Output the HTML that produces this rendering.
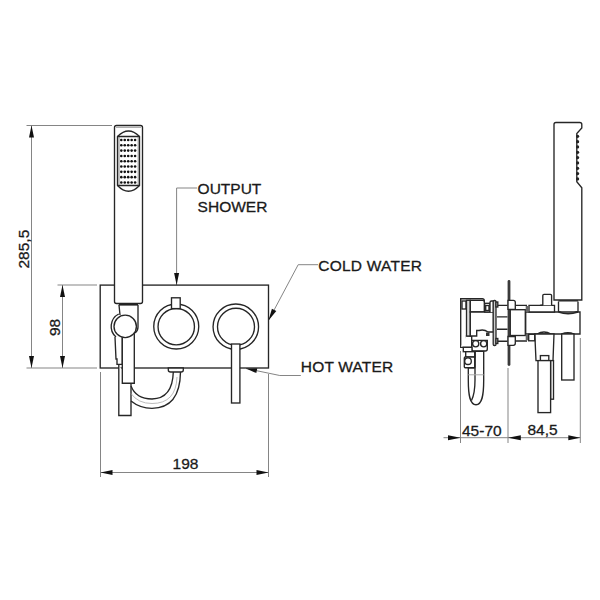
<!DOCTYPE html>
<html><head><meta charset="utf-8">
<style>
html,body{margin:0;padding:0;background:#fff;width:600px;height:600px;overflow:hidden}
svg{display:block}
text{font-family:"Liberation Sans",sans-serif;font-size:15.5px;fill:#1a1a1a;stroke:#1a1a1a;stroke-width:0.3}
.o{fill:none;stroke:#262626;stroke-width:1.35}
.w{fill:#fff;stroke:#262626;stroke-width:1.35}
.d{fill:none;stroke:#858585;stroke-width:1}
.a{fill:#111;stroke:none}
</style></head>
<body>
<svg width="600" height="600" viewBox="0 0 600 600">
<!-- ============ LEFT VIEW: dimensions ============ -->
<g class="d">
  <path d="M26.5 125.5H112"/>
  <path d="M31.5 125.5V368"/>
  <path d="M26.5 368H97"/>
  <path d="M57.5 285H97"/>
  <path d="M62.5 285V368"/>
  <path d="M100.5 372V477"/>
  <path d="M268.5 374V477"/>
  <path d="M100.5 472.5H268.5"/>
  <!-- leaders -->
  <path d="M197 188H176.6V285"/>
  <path d="M318 264.7H298.2L268.5 320.5"/>
  <path d="M300.8 375.5H279.8L246 368.5"/>
</g>
<g class="a">
  <path d="M31.5 125.5L29 137.5H34Z"/>
  <path d="M31.5 368L29 356H34Z"/>
  <path d="M62.5 285L60 297H65Z"/>
  <path d="M62.5 368L60 356H65Z"/>
  <path d="M100.5 472.5L112.5 470H112.5V475Z"/>
  <path d="M268.5 472.5L256.5 470V475Z"/>
  <path d="M176.6 285L174.1 273H179.1Z"/>
  <path d="M268.5 320.5L271.9 308.8L276.3 311.1Z"/>
  <path d="M246 368.5L257.3 368.2L256.3 373.1Z"/>
</g>
<text transform="translate(28.5 268.5) rotate(-90)">285,5</text>
<text transform="translate(59.8 336) rotate(-90)">98</text>
<text x="172.6" y="469.3">198</text>
<text x="197.6" y="194">OUTPUT</text>
<text x="197.6" y="212">SHOWER</text>
<text x="318.2" y="271.4" letter-spacing="0.25">COLD WATER</text>
<text x="300.8" y="372.4" letter-spacing="0.17">HOT WATER</text>

<!-- ============ LEFT VIEW: object ============ -->
<rect class="o" x="100.2" y="285.1" width="168.3" height="82.9"/>
<!-- handshower -->
<rect class="w" x="114.5" y="125.5" width="28" height="178" rx="2"/>
<path d="M116 127.3H141" stroke="#9a9a9a" stroke-width="1"/>
<path class="o" d="M117.5 185.5V136.5Q128.5 125.5 139.5 136.5V185.5Q128.5 197 117.5 185.5Z" />
<path class="o" d="M117.5 136.5H139.5M117.5 185.5H139.5"/>
<path d="M119 137V185M138.2 137V185" fill="none" stroke="#777" stroke-width="0.8"/>
<g class="a"><circle cx="121.30" cy="140.00" r="1.3"/><circle cx="124.75" cy="140.00" r="1.3"/><circle cx="128.20" cy="140.00" r="1.3"/><circle cx="131.65" cy="140.00" r="1.3"/><circle cx="135.10" cy="140.00" r="1.3"/><circle cx="121.30" cy="145.31" r="1.3"/><circle cx="124.75" cy="145.31" r="1.3"/><circle cx="128.20" cy="145.31" r="1.3"/><circle cx="131.65" cy="145.31" r="1.3"/><circle cx="135.10" cy="145.31" r="1.3"/><circle cx="121.30" cy="150.62" r="1.3"/><circle cx="124.75" cy="150.62" r="1.3"/><circle cx="128.20" cy="150.62" r="1.3"/><circle cx="131.65" cy="150.62" r="1.3"/><circle cx="135.10" cy="150.62" r="1.3"/><circle cx="121.30" cy="155.93" r="1.3"/><circle cx="124.75" cy="155.93" r="1.3"/><circle cx="128.20" cy="155.93" r="1.3"/><circle cx="131.65" cy="155.93" r="1.3"/><circle cx="135.10" cy="155.93" r="1.3"/><circle cx="121.30" cy="161.24" r="1.3"/><circle cx="124.75" cy="161.24" r="1.3"/><circle cx="128.20" cy="161.24" r="1.3"/><circle cx="131.65" cy="161.24" r="1.3"/><circle cx="135.10" cy="161.24" r="1.3"/><circle cx="121.30" cy="166.55" r="1.3"/><circle cx="124.75" cy="166.55" r="1.3"/><circle cx="128.20" cy="166.55" r="1.3"/><circle cx="131.65" cy="166.55" r="1.3"/><circle cx="135.10" cy="166.55" r="1.3"/><circle cx="121.30" cy="171.86" r="1.3"/><circle cx="124.75" cy="171.86" r="1.3"/><circle cx="128.20" cy="171.86" r="1.3"/><circle cx="131.65" cy="171.86" r="1.3"/><circle cx="135.10" cy="171.86" r="1.3"/><circle cx="121.30" cy="177.17" r="1.3"/><circle cx="124.75" cy="177.17" r="1.3"/><circle cx="128.20" cy="177.17" r="1.3"/><circle cx="131.65" cy="177.17" r="1.3"/><circle cx="135.10" cy="177.17" r="1.3"/><circle cx="121.30" cy="182.48" r="1.3"/><circle cx="124.75" cy="182.48" r="1.3"/><circle cx="128.20" cy="182.48" r="1.3"/><circle cx="131.65" cy="182.48" r="1.3"/><circle cx="135.10" cy="182.48" r="1.3"/></g>
<!-- holder -->
<path d="M118.8 304.6H138" stroke="#222" stroke-width="2"/>
<path class="o" d="M119 305L120 315M138 305V327Q138 331 135 333"/>
<path class="o" d="M118.7 314A14 14 0 0 0 116 337"/>
<path class="w" d="M115 337L116 359H117V364.3H122.3V337"/>
<path class="w" d="M118.8 365V415.5H131V383"/>
<path class="w" d="M122.3 337.5V383.2H134.3V333"/>
<circle class="w" cx="125.2" cy="326.4" r="11.2"/>
<!-- hose -->
<path class="o" d="M131 386Q136 399 152 399Q172.5 398.5 173.3 372"/>
<path class="o" d="M131 401Q140 408.3 152 408.3Q180 408 180.5 372"/>
<path d="M131 393.5Q138 403.5 152 403.5Q176 403.5 177 377" fill="none" stroke="#aaa" stroke-width="0.8"/>
<path class="w" d="M168.3 368H183.3V370Q183.3 372 181 372H170.6Q168.3 372 168.3 370Z"/>
<!-- knobs -->
<circle class="o" cx="176.25" cy="326.5" r="22.5"/>
<circle class="o" cx="176.25" cy="326.7" r="18.2"/>
<rect class="w" x="171.5" y="297.8" width="8.7" height="10.8"/>
<circle class="o" cx="235.8" cy="326.75" r="22.75"/>
<circle class="o" cx="236" cy="326.75" r="18.5"/>
<rect class="w" x="231.5" y="344" width="8.4" height="59"/>

<!-- ============ RIGHT VIEW: dimensions ============ -->
<g class="d">
  <path d="M460.5 351V443"/>
  <path d="M508 368V443"/>
  <path d="M580.3 338V443"/>
  <path d="M443.5 437.7H580.3"/>
  <path d="M468 374.8H484" stroke="#aaa"/>
</g>
<g class="a">
  <path d="M460.5 437.7L448 435.2V440.2Z"/>
  <path d="M508 437.7L520.8 435.2V440.2Z"/>
  <path d="M580.3 437.7L568.3 435.2V440.2Z"/>
</g>
<text x="462" y="435.8">45-70</text>
<text x="527.5" y="435.2">84,5</text>

<!-- ============ RIGHT VIEW: object ============ -->
<!-- handshower side -->
<path class="w" d="M554 300V124.5Q554 122.5 556 122.5H579.8Q581.8 122.5 581.8 124.5V128L576.8 133.5V181.7L581.8 187.7V300Z"/>
<g fill="#222"><circle cx="577.6" cy="136.30" r="1.6"/><circle cx="577.6" cy="141.63" r="1.6"/><circle cx="577.6" cy="146.96" r="1.6"/><circle cx="577.6" cy="152.29" r="1.6"/><circle cx="577.6" cy="157.62" r="1.6"/><circle cx="577.6" cy="162.95" r="1.6"/><circle cx="577.6" cy="168.28" r="1.6"/><circle cx="577.6" cy="173.61" r="1.6"/><circle cx="577.6" cy="178.94" r="1.6"/></g>
<path d="M558.5 301.2H578" stroke="#222" stroke-width="2"/>
<path class="w" d="M558.5 301.5V311.5Q568 315.5 578 311.5V301.5"/>
<!-- body -->
<path class="w" d="M525.7 312H580V334H525.7Z"/>
<path class="o" d="M558.5 312Q568 315.5 578 312"/>
<path class="w" d="M529 305.3H554.5V312H529Z"/>
<path class="o" d="M537 334Q544 330 551 334M561.7 334Q568 331.5 574 334"/>
<path class="o" d="M540 305.3Q547 304 551 305.3"/>
<path class="w" d="M542.8 305.3V295.5Q542.8 294.3 544 294.3H550.4Q551.6 294.3 551.6 295.5V305.3"/>
<!-- lever -->
<path class="w" d="M534.8 334H554L553 360.6H536Z"/>
<rect class="w" x="540.4" y="355.6" width="8.4" height="5"/>
<rect class="w" x="550.6" y="360.6" width="2.9" height="38.6"/>
<rect class="w" x="538" y="360.6" width="12.6" height="52"/>
<rect class="w" x="561.7" y="334" width="12.3" height="46"/>
<!-- between wall and body -->
<path class="o" d="M510.3 305.3H527M510.3 341H527"/>
<rect class="w" x="510.3" y="309.7" width="15" height="25.8"/>
<rect fill="#666" x="525.7" y="306" width="3" height="6"/>
<rect fill="#666" x="525.7" y="334.3" width="3" height="6"/>
<rect class="w" x="528.7" y="334.3" width="6" height="6.5"/>
<!-- wall plate -->
<path d="M509 281.5V364.5" stroke="#3a3a3a" stroke-width="2.8" stroke-linecap="round"/>
<path class="w" d="M508 309.3V300.3H513.3Q515.3 300.3 515.3 302.3V309.3Z"/>
<path class="w" d="M508 336.5V345.3H513.3Q515.3 345.3 515.3 343.3V336.5Z"/>
<!-- tie rods -->
<path class="o" d="M497 305.3H507.5M497 316.9H507.5M497 329.2H507.5M497 341.2H507.5"/>
<!-- left assembly -->
<path class="w" d="M460.7 347.3V298.7H482.3Q484.3 298.7 484.3 300.7V312H470.3V336H466.5V347.3Z"/>
<path class="w" d="M460.7 347.3H471.7V336H466.5"/>
<rect class="w" x="462" y="301" width="4" height="8"/>
<rect x="466.5" y="300.3" width="3.8" height="35.7" fill="#ddd" stroke="#2a2a2a" stroke-width="1.3"/>
<path class="w" d="M470.3 300.3H482.5Q484.3 300.3 484.3 302V312H470.3Z"/>
<path class="w" d="M470.3 312H493.5V332H488Q484 329 479 330.5H476.7V336H470.3Z"/>
<rect class="w" x="484.7" y="303.3" width="5.3" height="8.7"/>
<rect class="o" x="485.7" y="305.5" width="3.3" height="5" stroke-width="0.9"/>
<path class="w" d="M490 312V302.5Q490 301 491.5 301H493.5V312"/>
<rect x="493.2" y="300.5" width="2.8" height="45" rx="1.2" fill="#ccc" stroke="#2a2a2a" stroke-width="1.3"/>
<rect class="w" x="496" y="302" width="1.8" height="5" />
<rect class="w" x="496" y="338.5" width="1.8" height="5" />
<rect fill="#333" x="486" y="332.5" width="3.5" height="3.5"/>
<path class="w" d="M471.7 340.3H487.3V349Q487.3 351 485.3 351H473.7Q471.7 351 471.7 349Z"/>
<circle class="o" cx="475.7" cy="343.7" r="3.1"/>
<circle class="o" cx="483.7" cy="343.7" r="3.1"/>
<rect class="w" x="463.3" y="347.3" width="8.7" height="4.4"/>
<!-- hose side -->
<path class="w" d="M468.3 367.7V380C468.3 396 470 404.7 476 404.7C482 404.7 483.7 396 483.7 380V351.3H475V357H474.7V367.7Z"/>
<path class="o" d="M475 351.3V380C475 390 474.2 395 471.5 400.5"/>
<rect class="w" x="465.7" y="351.7" width="9" height="5.3"/>
<rect class="w" x="464.3" y="357" width="10.4" height="10.7" rx="1"/>
<circle class="o" cx="468" cy="361.2" r="3.3"/>
<path d="M468.3 374.8H483.7" stroke="#aaa" stroke-width="1"/>
</svg>
</body></html>
